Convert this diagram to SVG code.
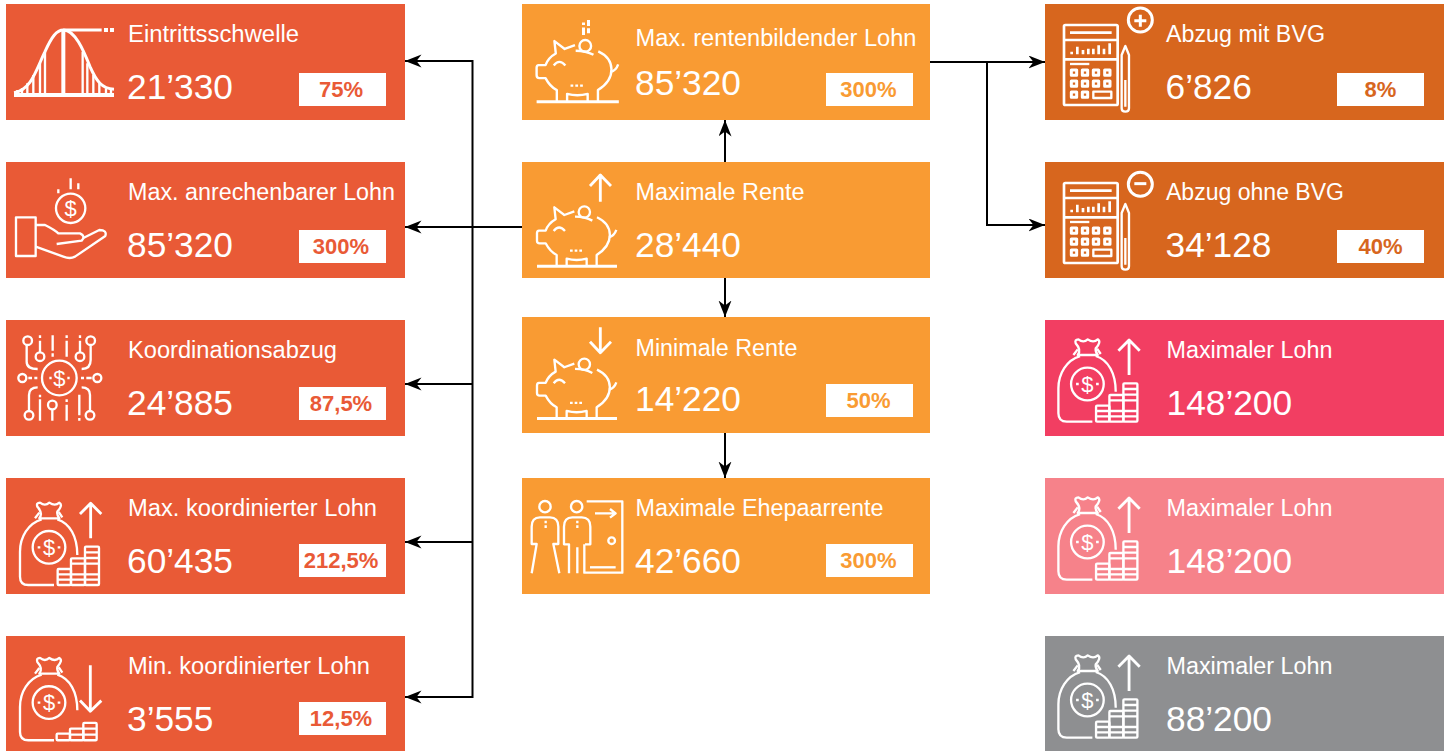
<svg xmlns="http://www.w3.org/2000/svg" xmlns:xlink="http://www.w3.org/1999/xlink" width="1454" height="751" viewBox="0 0 1454 751">
<style>
text{font-family:"Liberation Sans",Arial,sans-serif;fill:#fff}
.t{font-size:23px}
.n{font-size:35.300px}
.b{font-size:22px;font-weight:700;text-anchor:middle}
.red{fill:#E95A36}.or{fill:#F99B33}.br{fill:#D7661E}.pk{fill:#F23E62}.lp{fill:#F6828A}.gy{fill:#8E8F91}
.i{fill:none;stroke:#fff;stroke-width:7;stroke-linejoin:round}
.a{stroke-width:8.500}
.d{font-size:66px;text-anchor:middle;stroke:none}
.c{fill:none;stroke:#000;stroke-width:2}
</style>
<defs>
<marker id="ah" markerUnits="userSpaceOnUse" markerWidth="18" markerHeight="14" refX="16.500" refY="6.500" orient="auto"><path d="M0,0 L16.500,6.500 L0,13 L5,6.500 Z" fill="#000"/></marker>
<g id="pig" class="i">
<path d="M178,634 L148,645 L118,622 L122,658 Q100,670 92,692 L72,692 Q66,692 66,700 L66,722 Q66,730 74,730 L92,730 Q105,755 125,765 V799"/>
<path d="M180,650 Q210,650 232,662"/>
<path d="M246,652 C295,675 300,730 245,765 V799"/>
<path d="M282,712 Q298,708 304,690"/>
<circle cx="208" cy="636" r="17"/>
<path d="M116,693 Q132,672 150,693"/>
<path d="M155,799 V776 Q185,784 215,776 V799"/>
<path d="M165,752 H203" stroke-dasharray="8 6"/>
<path d="M66,799 H306" stroke-width="9"/>
</g>
<g id="bag" class="i">
<path d="M125,628 C85,640 60,680 60,725 V800 Q60,825 85,825 H162"/>
<path d="M172,628 C210,640 232,680 232,735"/>
<path d="M118,625 Q130,610 112,590 Q108,578 120,578 Q135,590 148,578 Q165,590 178,578 Q190,585 172,605 Q170,615 178,625 Z"/>
<path d="M118,608 L105,625 M176,606 L187,622"/>
<circle cx="147" cy="712" r="49"/>
<text x="147" y="735" class="d">$</text>
<path d="M113,712 H121 M173,712 H181"/>
</g>
<g id="coins" class="i">
<rect x="173" y="777" width="40" height="48" rx="3"/>
<rect x="213" y="745" width="42" height="80" rx="3"/>
<rect x="255" y="710" width="42" height="115" rx="3"/>
<path d="M173,793 H297 M173,809 H297 M213,761 H297 M255,727 H297 M255,744 H297"/>
</g>
<path id="upa" class="i a" d="M272,685 V580 M240,612 L272,580 L304,612"/>
<g id="calc" class="i" style="stroke-width:8">
<rect x="72" y="75" width="161" height="240" rx="4"/>
<path d="M72,120 H233 M72,178 H233 M90,98 H215"/>
<path d="M90,192 H148" stroke-width="7"/>
<path d="M95,163 V155 M112,163 V140 M129,163 V150 M145,163 V146 M160,163 V146 M176,163 V136 M192,163 V146 M209,163 V130"/>
<g style="stroke-width:9">
<rect x="94" y="210" width="16" height="16"/><rect x="127" y="210" width="16" height="16"/><rect x="160" y="210" width="16" height="16"/><rect x="194" y="210" width="16" height="16"/>
<rect x="94" y="243" width="16" height="16"/><rect x="127" y="243" width="16" height="16"/><rect x="160" y="243" width="16" height="16"/><rect x="194" y="243" width="16" height="16"/>
<rect x="94" y="276" width="16" height="16"/><rect x="127" y="276" width="16" height="16"/>
</g>
<rect x="160" y="275" width="54" height="19" stroke-width="7"/>
<path d="M256,138 L245,165 V325 Q245,335 256,335 Q267,335 267,325 V165 Z M256,240 V320" stroke-width="7"/>
</g>
</defs>

<g id="connectors">
<path class="c" d="M522,227 H405" marker-end="url(#ah)"/>
<path class="c" d="M472.500,61 H405" marker-end="url(#ah)"/>
<path class="c" d="M472.500,384 H405" marker-end="url(#ah)"/>
<path class="c" d="M472.500,542 H405" marker-end="url(#ah)"/>
<path class="c" d="M472.500,697 H405" marker-end="url(#ah)"/>
<path class="c" d="M472.500,60 V698"/>
<path class="c" d="M725,162 V120" marker-end="url(#ah)"/>
<path class="c" d="M725,278 V317" marker-end="url(#ah)"/>
<path class="c" d="M725,433 V478" marker-end="url(#ah)"/>
<path class="c" d="M930,62 H1045" marker-end="url(#ah)"/>
<path class="c" d="M987,62 V225 H1045" marker-end="url(#ah)"/>
</g>

<g id="eintritt">
<rect class="red" x="6" y="4" width="399" height="116"/>
<g class="i" transform="scale(.3333)" style="stroke-width:9">
<path d="M42,278 C95,270 110,205 135,155 C155,110 170,90 190,90 H305"/>
<path d="M190,90 C225,90 250,150 270,200 C290,245 305,265 342,268"/>
<path d="M190,90 V285" stroke-width="12"/>
<path d="M135,155 V285 M120,190 V285 M100,225 V285 M82,250 V285 M66,265 V285 M52,270 V285 M248,155 V285 M262,190 V285 M280,225 V285 M298,250 V285 M318,265 V285 M333,270 V285" stroke-width="7"/>
<path d="M42,285 H342" stroke-width="12"/>
<path d="M312,90 H324 M330,90 H342" stroke-width="12"/>
</g>
<text class="t" x="128" y="42" textLength="171" lengthAdjust="spacingAndGlyphs">Eintrittsschwelle</text>
<text class="n" x="127" y="99">21’330</text>
<rect x="299" y="73" width="87" height="33" fill="#fff"/>
<text class="b red" x="341" y="97">75%</text>
</g>

<g id="anrechenbar">
<rect class="red" x="6" y="162" width="399" height="116"/>
<g class="i" transform="scale(.3333)">
<rect x="48" y="652" width="59" height="116"/>
<path d="M107,675 H135 Q165,690 175,700 H240 Q258,708 245,722 L170,732"/>
<path d="M250,714 L298,690 Q322,690 316,708 L225,770 Q210,778 190,770 L107,740"/>
<circle cx="212" cy="625" r="44"/>
<text x="212" y="648" class="d">$</text>
<path d="M212,535 V568 M235,550 V568 M175,568 V580"/>
</g>
<text class="t" x="128" y="200" textLength="267" lengthAdjust="spacingAndGlyphs">Max. anrechenbarer Lohn</text>
<text class="n" x="127" y="257">85’320</text>
<rect x="299" y="230" width="87" height="33" fill="#fff"/>
<text class="b red" x="341" y="254">300%</text>
</g>

<g id="koordination">
<rect class="red" x="6" y="320" width="399" height="116"/>
<g class="i" transform="translate(0,310) scale(.3333)">
<circle cx="178" cy="204" r="52"/>
<text x="178" y="227" class="d">$</text>
<path d="M148,204 H155 M202,204 H209 M103,204 H112 M85,204 H96 M243,204 H252 M259,204 H275"/>
<circle cx="67" cy="204" r="12"/><circle cx="292" cy="204" r="12"/>
<circle cx="83" cy="92" r="13"/><circle cx="120" cy="140" r="13"/><circle cx="240" cy="140" r="13"/><circle cx="272" cy="92" r="13"/>
<circle cx="87" cy="316" r="13"/><circle cx="157" cy="285" r="13"/><circle cx="270" cy="316" r="13"/>
<path d="M80,105 V155 Q80,177 113,177 M120,127 V92 M120,84 V76 M158,76 V122 M158,130 V140 M200,76 V84 M200,92 V140 M240,127 V92 M240,84 V76 M272,105 V150 Q272,177 245,177"/>
<path d="M87,303 V255 Q87,232 113,232 M120,332 V268 M120,262 V254 M157,298 V332 M200,332 V284 M200,276 V268 M238,254 V316 M238,324 V332 M270,303 V255 Q270,232 245,232"/>
</g>
<text class="t" x="128" y="358" textLength="209" lengthAdjust="spacingAndGlyphs">Koordinationsabzug</text>
<text class="n" x="127" y="415">24’885</text>
<rect x="299" y="387" width="87" height="33" fill="#fff"/>
<text class="b red" x="341" y="411">87,5%</text>
</g>

<g id="maxkoord">
<rect class="red" x="6" y="478" width="399" height="116"/>
<g transform="translate(0,310) scale(.3333)"><use href="#bag"/><use href="#coins"/><use href="#upa"/></g>
<text class="t" x="128" y="516" textLength="249" lengthAdjust="spacingAndGlyphs">Max. koordinierter Lohn</text>
<text class="n" x="127" y="573">60’435</text>
<rect x="299" y="544" width="87" height="33" fill="#fff"/>
<text class="b red" x="341" y="568">212,5%</text>
</g>

<g id="minkoord">
<rect class="red" x="6" y="636" width="399" height="115"/>
<g transform="translate(0,465.300) scale(.3333)">
<use href="#bag"/>
<g class="i">
<rect x="170" y="805" width="40" height="20" rx="3"/><rect x="210" y="790" width="40" height="35" rx="3"/><rect x="250" y="773" width="40" height="52" rx="3"/>
<path d="M210,808 H290 M250,790 H290"/>
</g>
<path class="i a" d="M271,600 V738 M240,706 L271,738 L304,706"/>
</g>
<text class="t" x="128" y="674" textLength="242" lengthAdjust="spacingAndGlyphs">Min. koordinierter Lohn</text>
<text class="n" x="127" y="731">3’555</text>
<rect x="299" y="702" width="87" height="33" fill="#fff"/>
<text class="b red" x="341" y="726">12,5%</text>
</g>

<g id="rentenbildend">
<rect class="or" x="522" y="4" width="408" height="116"/>
<g transform="translate(514,-172) scale(.3426)"><use href="#pig"/></g>
<path d="M588.500,20 V26 M588.500,28.300 V33.300 M583.500,22.500 V25 M583.500,27.500 V35" stroke="#fff" stroke-width="3" fill="none"/>
<text class="t" x="635.500" y="46" textLength="281" lengthAdjust="spacingAndGlyphs">Max. rentenbildender Lohn</text>
<text class="n" x="635" y="95">85’320</text>
<rect x="826" y="73" width="87" height="33" fill="#fff"/>
<text class="b or" x="868.500" y="97">300%</text>
</g>

<g id="maxrente">
<rect class="or" x="522" y="162" width="408" height="116"/>
<g transform="translate(515,0) scale(.3333)"><use href="#pig"/></g>
<path class="i a" transform="translate(515,0) scale(.3333)" d="M256,605 V522 M225,558 L256,525 L288,558"/>
<text class="t" x="635.500" y="200" textLength="169" lengthAdjust="spacingAndGlyphs">Maximale Rente</text>
<text class="n" x="635" y="257">28’440</text>
</g>

<g id="minrente">
<rect class="or" x="522" y="317" width="408" height="116"/>
<g transform="translate(515,152.300) scale(.3333)"><use href="#pig"/></g>
<path class="i a" transform="translate(515,310) scale(.3333)" d="M256,52 V130 M225,95 L256,128 L288,95"/>
<text class="t" x="635.500" y="355.500" textLength="162" lengthAdjust="spacingAndGlyphs">Minimale Rente</text>
<text class="n" x="635" y="411">14’220</text>
<rect x="826" y="384" width="87" height="33" fill="#fff"/>
<text class="b or" x="868.500" y="408">50%</text>
</g>

<g id="ehepaar">
<rect class="or" x="522" y="478" width="408" height="116"/>
<g class="i" transform="translate(515,310) scale(.3333)">
<circle cx="90" cy="590" r="17"/><circle cx="185" cy="590" r="17"/>
<path d="M50,790 L65,702 H50 V650 Q50,622 75,622 H105 Q130,622 130,650 V702 H115 L133,790"/>
<path d="M162,790 V703 H147 V650 Q147,622 172,622 H200 Q226,622 226,650 V703 H210 M187,712 V790"/>
<path d="M92,632 V640 M92,646 V654 M187,632 V640 M187,646 V654"/>
<path d="M215,574 H322 V788 H208 V703"/>
<path d="M240,610 H300 M285,597 L302,610 L285,623"/>
<circle cx="290" cy="692" r="10"/>
<path d="M225,772 H302"/>
</g>
<text class="t" x="635.500" y="516" textLength="248" lengthAdjust="spacingAndGlyphs">Maximale Ehepaarrente</text>
<text class="n" x="635" y="573">42’660</text>
<rect x="826" y="544" width="87" height="33" fill="#fff"/>
<text class="b or" x="868.500" y="568">300%</text>
</g>

<g id="mitbvg">
<rect class="br" x="1045" y="4" width="399" height="116"/>
<g transform="translate(1040,0) scale(.3333)"><use href="#calc"/></g>
<g class="i" transform="translate(1040,0) scale(.3333)" style="stroke-width:9">
<circle cx="301" cy="60" r="36"/><path d="M283,62 H319 M301,44 V80"/>
</g>
<text class="t" x="1166" y="42" textLength="159" lengthAdjust="spacingAndGlyphs">Abzug mit BVG</text>
<text class="n" x="1165.500" y="99">6’826</text>
<rect x="1337" y="73" width="87" height="33" fill="#fff"/>
<text class="b br" x="1380.500" y="97">8%</text>
</g>

<g id="ohnebvg">
<rect class="br" x="1045" y="162" width="399" height="116"/>
<g transform="translate(1040,158) scale(.3333)"><use href="#calc"/></g>
<g class="i" transform="translate(1040,0) scale(.3333)" style="stroke-width:9">
<circle cx="301" cy="553" r="36"/><path d="M283,551 H319"/>
</g>
<text class="t" x="1166" y="200" textLength="178" lengthAdjust="spacingAndGlyphs">Abzug ohne BVG</text>
<text class="n" x="1165.500" y="257">34’128</text>
<rect x="1337" y="230" width="87" height="33" fill="#fff"/>
<text class="b br" x="1380.500" y="254">40%</text>
</g>

<g id="maxlohn1">
<rect class="pk" x="1045" y="320" width="399" height="116"/>
<g transform="translate(1038.400,146.700) scale(.3333)"><use href="#bag"/><use href="#coins"/><use href="#upa"/></g>
<text class="t" x="1166.500" y="358" textLength="166" lengthAdjust="spacingAndGlyphs">Maximaler Lohn</text>
<text class="n" x="1166.500" y="415">148’200</text>
</g>

<g id="maxlohn2">
<rect class="lp" x="1045" y="478" width="399" height="116"/>
<g transform="translate(1038.400,304.700) scale(.3333)"><use href="#bag"/><use href="#coins"/><use href="#upa"/></g>
<text class="t" x="1166.500" y="516" textLength="166" lengthAdjust="spacingAndGlyphs">Maximaler Lohn</text>
<text class="n" x="1166.500" y="573">148’200</text>
</g>

<g id="maxlohn3">
<rect class="gy" x="1045" y="636" width="399" height="115"/>
<g transform="translate(1038.400,462.700) scale(.3333)"><use href="#bag"/><use href="#coins"/><use href="#upa"/></g>
<text class="t" x="1166.500" y="674" textLength="166" lengthAdjust="spacingAndGlyphs">Maximaler Lohn</text>
<text class="n" x="1166" y="731">88’200</text>
</g>
</svg>
